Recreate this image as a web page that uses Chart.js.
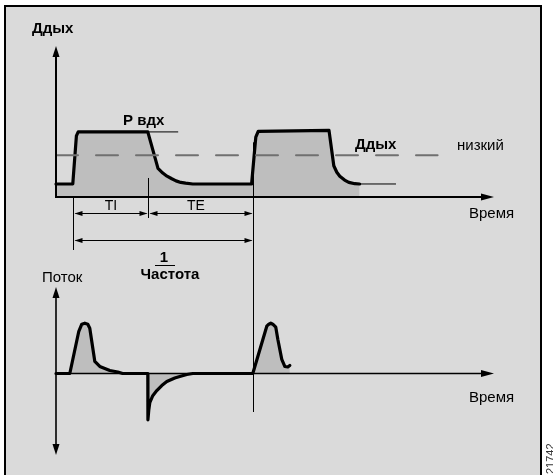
<!DOCTYPE html>
<html>
<head>
<meta charset="utf-8">
<script src="https://cdn.jsdelivr.net/npm/chart.js@4.4.1/dist/chart.umd.min.js"></script>
<style>
  html, body { margin: 0; padding: 0; background: #ffffff; }
  #wrap { position: relative; width: 553px; height: 475px; overflow: hidden; }
  #frame { position: absolute; left: 4px; top: 5px; width: 538px; height: 490px;
           background: #dadada; border: 2px solid #000; box-sizing: border-box; }
  canvas { position: absolute; left: 0; top: 0; }
</style>
</head>
<body>
<div id="wrap">
  <div id="frame"></div>
  <canvas id="pressure" width="553" height="475"></canvas>
  <canvas id="flow" width="553" height="475"></canvas>
</div>
<script>
// Airway pressure over one and a half breaths (time in s, pressure in mbar)
const pressureT = [-0.28, 0.00, 0.06, 0.09, 1.25, 1.42, 1.50, 1.57, 1.65, 1.72, 1.80, 1.88, 2.00,
                   2.98, 3.05, 3.09, 4.27, 4.35, 4.40, 4.45, 4.53, 4.60, 4.70, 4.78];
const pressureV = [5, 5, 23.5, 25, 25, 11, 9.2, 8, 7, 6.2, 5.6, 5.3, 5,
                   5, 23, 25.2, 25.6, 12, 9.5, 8, 6.5, 5.6, 5.1, 5];

// Baseline pressure continuing after the second breath
const peepTailT = [4.78, 5.38];
const peepTailV = [5, 5];

// Inspiratory pressure marker
const pInspT = [1.25, 1.75];
const pInspV = [25, 25];

// Low airway-pressure alarm limit (dashed)
const lowLimitT = [-0.28, 6.08];
const lowLimitV = [16, 16];

// Flow (L/min)
const flowT = [-0.28, -0.05, 0.10, 0.15, 0.20, 0.25, 0.283, 0.367, 0.45, 0.617, 0.75, 0.83,
               1.25, 1.252, 1.267, 1.283, 1.333, 1.40, 1.483, 1.567, 1.70, 1.783, 1.90, 2.00,
               3.00, 3.233, 3.267, 3.30, 3.333, 3.383, 3.417, 3.483, 3.533, 3.583, 3.617];
const flowV = [0, 0, 42, 49, 50, 49, 45, 12, 7, 3, 1.5, 0,
               0, -46, -36, -29, -22, -17, -12, -8, -4.5, -3, -1, 0,
               0, 47, 49, 50, 49, 46, 34, 14, 7, 6.5, 8];

// Breath timing: start of inspiration, start of expiration, next breath
const phaseTimes = [0, 1.25, 3.0];

// Text labels
const pressureTitleText = 'Ддых';
const pInspLabel = 'P вдх';
const lowLimitLabel = ['Ддых', 'низкий'];
const phaseLabels = ['TI', 'TE'];
const periodLabel = ['1', 'Частота'];
const flowTitle = 'Поток';
const timeLabel = 'Время';
const figureId = '21742';

const FONT = "'Liberation Sans', Arial, sans-serif";
const INK = '#000000';
const FILL = '#bebebe';

const pts = (t, v) => t.map((x, i) => ({ x: x, y: v[i] }));

function arrowHead(ctx, x, y, dir, len, half) {
  // dir: 'up' | 'down' | 'left' | 'right'; (x, y) is the tip
  ctx.beginPath();
  ctx.moveTo(x, y);
  if (dir === 'up')    { ctx.lineTo(x - half, y + len); ctx.lineTo(x + half, y + len); }
  if (dir === 'down')  { ctx.lineTo(x - half, y - len); ctx.lineTo(x + half, y - len); }
  if (dir === 'left')  { ctx.lineTo(x + len, y - half); ctx.lineTo(x + len, y + half); }
  if (dir === 'right') { ctx.lineTo(x - len, y - half); ctx.lineTo(x - len, y + half); }
  ctx.closePath();
  ctx.fill();
}

function line(ctx, x1, y1, x2, y2, w) {
  ctx.lineWidth = w;
  ctx.beginPath();
  ctx.moveTo(x1, y1);
  ctx.lineTo(x2, y2);
  ctx.stroke();
}

function dimension(ctx, xa, xb, y) {
  line(ctx, xa + 2, y, xb - 2, y, 1);
  arrowHead(ctx, xa + 1, y, 'left', 8, 2.5);
  arrowHead(ctx, xb - 1, y, 'right', 8, 2.5);
}

function text(ctx, s, x, y, size, bold, align) {
  ctx.font = (bold ? 'bold ' : '') + size + 'px ' + FONT;
  ctx.textAlign = align || 'left';
  ctx.textBaseline = 'alphabetic';
  ctx.fillText(s, x, y);
}

const X_MIN = -0.28, X_MAX = 7.02;

const baseOptions = (padTop, padBottom, yMin, yMax) => ({
  responsive: false,
  animation: false,
  devicePixelRatio: 1,
  layout: { padding: { left: 56, right: 553 - 494, top: padTop, bottom: padBottom } },
  scales: {
    x: { type: 'linear', min: X_MIN, max: X_MAX, display: false },
    y: { type: 'linear', min: yMin, max: yMax, display: false }
  },
  plugins: { legend: { display: false }, tooltip: { enabled: false } },
  elements: { point: { radius: 0 }, line: { tension: 0, borderJoinStyle: 'round', borderCapStyle: 'round' } }
});

// Pressure panel decorations: axes, timing guides, labels
const pressureDecor = {
  id: 'pressureDecor',
  afterDatasetsDraw(chart) {
    const ctx = chart.ctx, xs = chart.scales.x, ys = chart.scales.y;
    ctx.save();
    ctx.strokeStyle = INK; ctx.fillStyle = INK;
    const x0 = xs.getPixelForValue(X_MIN);
    const y0 = ys.getPixelForValue(0);

    // axes
    line(ctx, x0, y0, x0, ys.top + 8, 2);
    arrowHead(ctx, x0, ys.top, 'up', 11, 3.5);
    line(ctx, x0 - 1, y0, xs.right - 8, y0, 2.2);
    arrowHead(ctx, xs.right, y0, 'right', 13, 3.5);

    // timing guides
    const xa = Math.round(xs.getPixelForValue(phaseTimes[0])) + 0.5;
    const xb = Math.round(xs.getPixelForValue(phaseTimes[1])) + 0.5;
    const xc = Math.round(xs.getPixelForValue(phaseTimes[2])) + 0.5;
    line(ctx, xa, y0, xa, 250, 1);
    line(ctx, xb, ys.getPixelForValue(7.3), xb, 218, 1);
    line(ctx, xc, ys.getPixelForValue(21), xc, 412, 1);

    dimension(ctx, xa, xb, 213.5);
    dimension(ctx, xb, xc, 213.5);
    dimension(ctx, xa, xc, 240.5);

    // labels
    text(ctx, pressureTitleText, 32, 33, 15, true);
    text(ctx, pInspLabel, 123, 125, 15, true);
    text(ctx, lowLimitLabel[0], 355, 149, 15, true);
    text(ctx, lowLimitLabel[1], 457, 150, 15, false);
    text(ctx, phaseLabels[0], 111, 210, 14, false, 'center');
    text(ctx, phaseLabels[1], 196, 210, 14, false, 'center');
    text(ctx, periodLabel[0], 164, 262, 15, true, 'center');
    line(ctx, 155, 265.5, 175, 265.5, 1);
    text(ctx, periodLabel[1], 170, 279, 15, true, 'center');
    text(ctx, timeLabel, 469, 218, 15, false);
    ctx.restore();
  }
};

// Flow panel decorations
const flowDecor = {
  id: 'flowDecor',
  afterDatasetsDraw(chart) {
    const ctx = chart.ctx, xs = chart.scales.x, ys = chart.scales.y;
    ctx.save();
    ctx.strokeStyle = INK; ctx.fillStyle = INK;
    const x0 = xs.getPixelForValue(X_MIN);
    const y0 = ys.getPixelForValue(0);

    line(ctx, x0, ys.top + 8, x0, ys.bottom - 8, 1.6);
    arrowHead(ctx, x0, ys.top, 'up', 11, 3.5);
    arrowHead(ctx, x0, ys.bottom, 'down', 11, 3.5);
    line(ctx, x0, y0, xs.right - 8, y0, 1.6);
    arrowHead(ctx, xs.right, y0, 'right', 13, 3.5);

    text(ctx, flowTitle, 42, 282, 15, false);
    text(ctx, timeLabel, 469, 402, 15, false);

    // drawing number along the right edge
    ctx.save();
    ctx.translate(553.5, 474);
    ctx.rotate(-Math.PI / 2);
    ctx.fillStyle = '#333';
    text(ctx, figureId, 0, 0, 11, false);
    ctx.restore();
    ctx.restore();
  }
};

new Chart(document.getElementById('pressure'), {
  type: 'line',
  data: {
    datasets: [
      { data: pts(lowLimitT, lowLimitV), borderColor: '#707070', borderWidth: 2,
        borderDash: [22, 18], fill: false, clip: false, order: 1 },
      { data: pts(pressureT, pressureV), borderColor: INK, borderWidth: 3.2,
        backgroundColor: FILL, fill: 'origin', clip: false, order: 2 },
      { data: pts(peepTailT, peepTailV), borderColor: INK, borderWidth: 1,
        fill: false, clip: false, order: 0 },
      { data: pts(pInspT, pInspV), borderColor: INK, borderWidth: 1,
        fill: false, clip: false, order: 0 }
    ]
  },
  options: baseOptions(46, 475 - 197, 0, 58),
  plugins: [pressureDecor]
});

new Chart(document.getElementById('flow'), {
  type: 'line',
  data: {
    datasets: [
      { data: pts(flowT, flowV), borderColor: INK, borderWidth: 3.2,
        backgroundColor: FILL, fill: 'origin', clip: false }
    ]
  },
  options: baseOptions(287, 475 - 455, -81, 86),
  plugins: [flowDecor]
});
</script>
</body>
</html>
